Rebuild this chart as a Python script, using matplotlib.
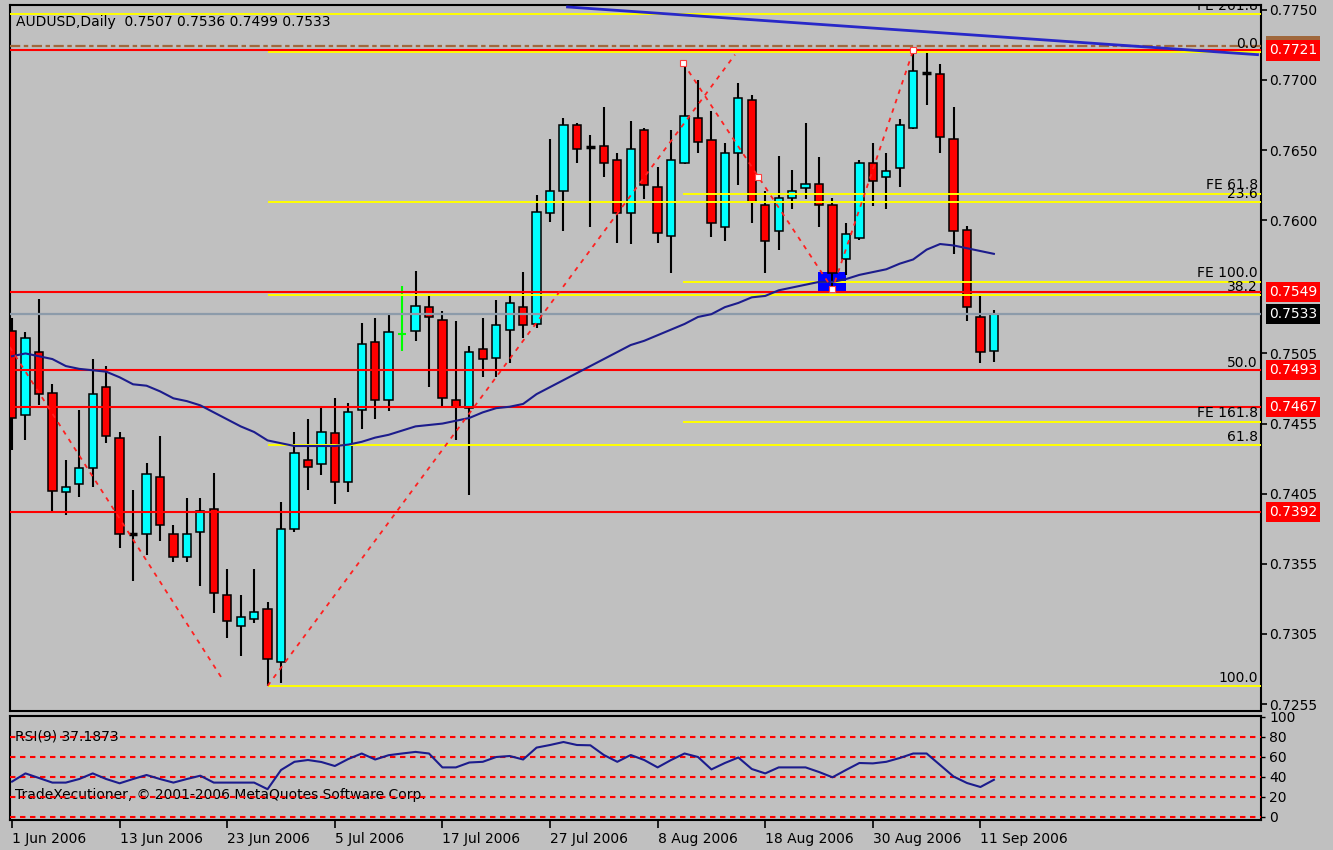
import numpy as np
import matplotlib
matplotlib.use("Agg")
import matplotlib.pyplot as plt
from matplotlib.patches import Rectangle

plt.rcParams['font.family'] = ['DejaVu Sans']
plt.rcParams['font.size'] = 10

### data (AUDUSD daily, 1 Jun - 12 Sep 2006)
symbol = "AUDUSD,Daily"
last_ohlc = [0.7507, 0.7536, 0.7499, 0.7533]

opens = [0.7521, 0.7461, 0.7506, 0.7477, 0.7406, 0.7412, 0.7423, 0.7481, 0.7445, 0.7376,
         0.7376, 0.7417, 0.7376, 0.7360, 0.7378, 0.7394, 0.7333, 0.7311, 0.7316, 0.7323,
         0.7285, 0.7380, 0.7429, 0.7426, 0.7448, 0.7413, 0.7465, 0.7513, 0.7472, 0.7519,
         0.7521, 0.7538, 0.7529, 0.7472, 0.7466, 0.7508, 0.7502, 0.7522, 0.7538, 0.7526,
         0.7605, 0.7621, 0.7668, 0.7652, 0.7653, 0.7643, 0.7605, 0.7664, 0.7624, 0.7589,
         0.7641, 0.7673, 0.7657, 0.7595, 0.7648, 0.7686, 0.7611, 0.7592, 0.7616, 0.7623,
         0.7626, 0.7611, 0.7572, 0.7587, 0.7641, 0.7631, 0.7637, 0.7666, 0.7705, 0.7704,
         0.7658, 0.7593, 0.7531, 0.7507]
highs = [0.7530, 0.7520, 0.7544, 0.7483, 0.7429, 0.7465, 0.7501, 0.7496, 0.7449, 0.7408,
         0.7427, 0.7446, 0.7383, 0.7402, 0.7402, 0.7420, 0.7351, 0.7333, 0.7351, 0.7328,
         0.7399, 0.7449, 0.7458, 0.7467, 0.7473, 0.7470, 0.7527, 0.7530, 0.7533, 0.7553,
         0.7564, 0.7547, 0.7535, 0.7528, 0.7510, 0.7530, 0.7543, 0.7547, 0.7563, 0.7618,
         0.7658, 0.7673, 0.7669, 0.7661, 0.7681, 0.7648, 0.7671, 0.7666, 0.7638, 0.7664,
         0.7713, 0.7700, 0.7678, 0.7655, 0.7698, 0.7689, 0.7621, 0.7646, 0.7636, 0.7669,
         0.7645, 0.7616, 0.7598, 0.7643, 0.7655, 0.7648, 0.7672, 0.7721, 0.7720, 0.7711,
         0.7681, 0.7596, 0.7546, 0.7536]
lows = [0.7436, 0.7443, 0.7468, 0.7393, 0.7390, 0.7403, 0.7410, 0.7441, 0.7366, 0.7343,
        0.7361, 0.7371, 0.7356, 0.7356, 0.7339, 0.7320, 0.7302, 0.7289, 0.7313, 0.7268,
        0.7270, 0.7378, 0.7408, 0.7418, 0.7398, 0.7406, 0.7451, 0.7458, 0.7464, 0.7507,
        0.7514, 0.7481, 0.7466, 0.7443, 0.7404, 0.7488, 0.7488, 0.7498, 0.7516, 0.7523,
        0.7599, 0.7592, 0.7641, 0.7595, 0.7631, 0.7584, 0.7583, 0.7615, 0.7584, 0.7562,
        0.7640, 0.7648, 0.7588, 0.7585, 0.7625, 0.7598, 0.7562, 0.7579, 0.7608, 0.7615,
        0.7595, 0.7553, 0.7561, 0.7586, 0.7610, 0.7608, 0.7624, 0.7665, 0.7682, 0.7648,
        0.7576, 0.7528, 0.7498, 0.7499]
closes = [0.7459, 0.7516, 0.7476, 0.7407, 0.7410, 0.7423, 0.7476, 0.7446, 0.7376, 0.7376,
          0.7419, 0.7383, 0.7360, 0.7376, 0.7393, 0.7334, 0.7314, 0.7317, 0.7321, 0.7287,
          0.7380, 0.7434, 0.7424, 0.7449, 0.7413, 0.7463, 0.7512, 0.7472, 0.7520, 0.7519,
          0.7539, 0.7531, 0.7473, 0.7467, 0.7506, 0.7501, 0.7525, 0.7541, 0.7525, 0.7606,
          0.7621, 0.7668, 0.7651, 0.7652, 0.7641, 0.7605, 0.7651, 0.7625, 0.7591, 0.7643,
          0.7674, 0.7656, 0.7598, 0.7648, 0.7687, 0.7613, 0.7585, 0.7616, 0.7621, 0.7626,
          0.7611, 0.7562, 0.7590, 0.7641, 0.7628, 0.7635, 0.7668, 0.7706, 0.7705, 0.7659,
          0.7592, 0.7538, 0.7506, 0.7533]

# moving average (navy line)
ma = [0.7503, 0.7505, 0.7503, 0.7501, 0.7496, 0.7494, 0.7493, 0.7492, 0.7488, 0.7483,
      0.7482, 0.7478, 0.7473, 0.7471, 0.7468, 0.7463, 0.7458, 0.7453, 0.7449, 0.7443,
      0.7441, 0.7439, 0.7439, 0.7439, 0.7439, 0.7440, 0.7442, 0.7445, 0.7447, 0.7450,
      0.7453, 0.7454, 0.7455, 0.7457, 0.7459, 0.7463, 0.7466, 0.7467, 0.7469, 0.7476,
      0.7481, 0.7486, 0.7491, 0.7496, 0.7501, 0.7506, 0.7511, 0.7514, 0.7518, 0.7522,
      0.7526, 0.7531, 0.7533, 0.7538, 0.7541, 0.7545, 0.7546, 0.7550, 0.7552, 0.7554,
      0.7556, 0.7556, 0.7558, 0.7561, 0.7563, 0.7565, 0.7569, 0.7572, 0.7579, 0.7583,
      0.7582, 0.7580, 0.7578, 0.7576]

# RSI(9)
rsi = [35.4, 43.6, 39, 34.4, 34.4, 38, 43.6, 38, 33.7, 38,
       42, 38, 34.4, 38, 41.3, 34.4, 34.4, 34.4, 34.4, 27.8,
       47, 55.2, 57, 55, 51, 58, 63.5, 57.5, 61.8, 63.5,
       65.1, 63.5, 49.6, 49.6, 54.5, 55.2, 60, 61, 57.5, 69.4,
       72, 75, 72, 71.7, 62, 55.2, 62, 57, 49.6, 57,
       63.5, 60, 47.6, 54, 59.5, 48, 43.6, 49.6, 49.6, 49.6,
       45, 39.7, 47, 54, 53.6, 55.2, 59, 63.5, 63.5, 52,
       40.5, 34, 30, 37.2]
rsi_last = 37.1873
rsi_levels = [80, 60, 40, 20, 0]

date_ticks = [0, 8, 16, 24, 32, 40, 48, 56, 64, 72]
date_labels = ["1 Jun 2006", "13 Jun 2006", "23 Jun 2006", "5 Jul 2006", "17 Jul 2006",
               "27 Jul 2006", "8 Aug 2006", "18 Aug 2006", "30 Aug 2006", "11 Sep 2006"]
price_ticks = [0.7750, 0.7700, 0.7650, 0.7600, 0.7505, 0.7455, 0.7405, 0.7355, 0.7305, 0.7255]

# horizontal objects
red_levels = [0.7721, 0.7549, 0.7493, 0.7467, 0.7392]
bid = 0.7533
top_yellow = 0.7747
brown_level = 0.7724
fib_start = 19
fib_levels = [0.7720, 0.7613, 0.7547, 0.7493, 0.7440, 0.7268]
fib_names = ["0.0", "23.6", "38.2", "50.0", "61.8", "100.0"]
fe_start = 50
fe_levels = [0.7619, 0.7556, 0.7456]
fe_names = ["FE 61.8", "FE 100.0", "FE 161.8"]

# drawn lines (bar index, price)
line_a_x, line_a_y = [-1, 15.7], [0.7522, 0.7272]
line_b_x, line_b_y = [19.0, 53.75], [0.7268, 0.7718]
zigzag_x, zigzag_y = [49.9, 61, 67], [0.7712, 0.7551, 0.7721]
marks_x, marks_y = [49.9, 55.45, 61, 67], [0.7712, 0.7631, 0.7551, 0.7721]
blue_trend_x, blue_trend_y = [41.3, 92.6], [0.7752, 0.7718]
box_x, box_y = [59.9, 62.0], [0.7549, 0.7563]

### figure
W, H = 1333, 850
BG = '#C0C0C0'
fig = plt.figure(figsize=(W / 100, H / 100), dpi=100, facecolor=BG)


def px_axes(l, t, r, b):
    return fig.add_axes([l / W, 1 - b / H, (r - l) / W, (b - t) / H])


ax = px_axes(10, 5, 1261, 711)
ax2 = px_axes(10, 716, 1261, 820)
for a in (ax, ax2):
    a.set_facecolor(BG)
    for s in a.spines.values():
        s.set_color('black')
        s.set_linewidth(1.5)
    a.set_xlim(-0.15, 92.86)

ax.set_ylim(0.72501, 0.77534)
ax2.set_ylim(-3, 101)

o = np.array(opens)
h = np.array(highs)
l = np.array(lows)
c = np.array(closes)
idx = np.arange(len(o))
up = c > o
down = c < o
flat = c == o
lime = np.zeros(len(o), bool)
lime[29] = True  # the one doji drawn in lime

body_w = 0.62
ax.vlines(idx[~lime], l[~lime], h[~lime], color='black', lw=1.5, zorder=2)
ax.vlines(idx[lime], l[lime], h[lime], color='#00FF00', lw=1.5, zorder=2)
ax.bar(idx[up], c[up] - o[up], bottom=o[up], width=body_w, color='#00FFFF',
       edgecolor='black', linewidth=1.1, zorder=3)
ax.bar(idx[down], o[down] - c[down], bottom=c[down], width=body_w, color='#FF0000',
       edgecolor='black', linewidth=1.1, zorder=3)
fd = flat & ~lime
ax.hlines(c[fd], idx[fd] - body_w / 2, idx[fd] + body_w / 2, color='black', lw=2.5, zorder=3)
ax.hlines(c[lime], idx[lime] - body_w / 2, idx[lime] + body_w / 2, color='#00FF00', lw=1.5, zorder=3)

# blue rectangle object
ax.add_patch(Rectangle((box_x[0], box_y[0]), box_x[1] - box_x[0], box_y[1] - box_y[0],
                       facecolor='#0000FF', edgecolor='none', zorder=1.5))

# horizontal lines
xl, xr = ax.get_xlim()
ax.hlines(top_yellow, xl, xr, color='#FFFF00', lw=1.4, zorder=4)
ax.plot([xl, xr], [brown_level] * 2, color='#A0683C', lw=1.6, zorder=4,
        dashes=(4.6, 1.6, 2.0, 1.6))
ax.hlines(fib_levels, fib_start, xr, color='#FFFF00', lw=1.4, zorder=4)
ax.hlines(fe_levels, fe_start - 0.1, xr, color='#FFFF00', lw=1.4, zorder=4)
ax.hlines(bid, xl, xr, color='#8C9BAA', lw=1.6, zorder=4)
ax.hlines(red_levels, xl, xr, color='#FF0000', lw=1.5, zorder=4.5)

# moving average + trend line
ax.plot(idx, ma, color='#1C1C8C', lw=1.5, zorder=5)
ax.plot(blue_trend_x, blue_trend_y, color='#2828C8', lw=2, zorder=5)

# dashed zigzag / trend lines
for xs, ys in [(line_a_x, line_a_y), (line_b_x, line_b_y), (zigzag_x, zigzag_y)]:
    ax.plot(xs, ys, color='#FF2020', lw=1.3, dashes=(2.5, 3.0), zorder=6)
ax.plot(marks_x, marks_y, ls='none', marker='s', ms=5, mfc='white', mec='#FF4040',
        mew=0.8, zorder=7)

# level labels
ytr = ax.get_yaxis_transform()
lab_x = (1258 - 10) / 1251
for lev, name in zip(fib_levels, fib_names):
    ax.annotate(name, (lab_x, lev), xycoords=ytr, xytext=(0, 2.5),
                textcoords='offset points', ha='right', va='baseline', zorder=8)
for lev, name in zip(fe_levels, fe_names):
    ax.annotate(name, (lab_x, lev), xycoords=ytr, xytext=(0, 3.5),
                textcoords='offset points', ha='right', va='baseline', zorder=8)
# label of the top expansion level, almost entirely above the chart window
top_lab = ax.text(lab_x, 0.7750, "FE 261.8", transform=ytr, ha='right',
                  va='baseline', zorder=8, clip_on=True)
top_lab.set_clip_path(ax.patch)

# right price axis
ax.yaxis.tick_right()
ax.set_yticks(price_ticks)
ax.set_yticklabels([f"{p:.4f}" for p in price_ticks])
ax.tick_params(axis='y', length=4, width=1.2, pad=2, labelsize=10, colors='black')
ax.tick_params(axis='x', bottom=False, labelbottom=False)

box_x0 = (1269 - 10) / 1251
ax.text(box_x0, brown_level, f"{brown_level:.4f}", transform=ytr, ha='left', va='center',
        color='white', clip_on=False, zorder=10,
        bbox=dict(boxstyle='square,pad=0.22', fc='#A0683C', ec='none'))
for lev in red_levels:
    ax.text(box_x0, lev, f"{lev:.4f}", transform=ytr, ha='left', va='center',
            color='white', clip_on=False, zorder=11,
            bbox=dict(boxstyle='square,pad=0.22', fc='#FF0000', ec='none'))
ax.text(box_x0, bid, f"{bid:.4f}", transform=ytr, ha='left', va='center',
        color='white', clip_on=False, zorder=11,
        bbox=dict(boxstyle='square,pad=0.22', fc='black', ec='none'))

# header
fig.text(16 / W, 1 - 22 / H,
         f"{symbol}  " + " ".join(f"{v:.4f}" for v in last_ohlc),
         ha='left', va='center', fontsize=10, color='black')

# RSI window
ax2.hlines(rsi_levels, xl, xr, color='#FF0000', lw=1.5, linestyles=(0, (2.6, 2.2)), zorder=3)
ax2.plot(idx, rsi, color='#1C1C8C', lw=1.5, zorder=4)
y2tr = ax2.get_yaxis_transform()
ax2.text(5 / 1251, 80, f"RSI(9) {rsi_last:.4f}", transform=y2tr, ha='left',
         va='center', fontsize=10, zorder=2)
ax2.text(5 / 1251, 22, "TradeXecutioner, \u00a9 2001-2006 MetaQuotes Software Corp.",
         transform=y2tr, ha='left', va='center', fontsize=10, zorder=2)
ax2.yaxis.tick_right()
ax2.set_yticks([100, 80, 60, 40, 20, 0])
ax2.set_yticklabels(["100", "80", "60", "40", "20", "0"])
ax2.tick_params(axis='y', length=3, width=1, pad=3, labelsize=10)

ax2.set_xticks(date_ticks)
ax2.set_xticklabels(date_labels, ha='left')
ax2.tick_params(axis='x', length=6, width=1.2, pad=3, labelsize=10, direction='out')

fig.savefig("out.png", dpi=100, facecolor=BG)
